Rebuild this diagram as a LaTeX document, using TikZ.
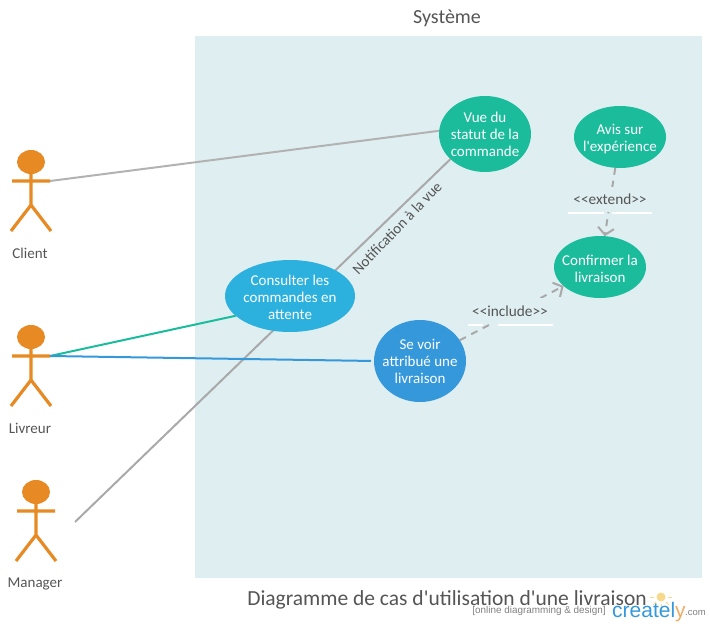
\documentclass[tikz,border=0pt]{standalone}
\usepackage{fontspec}
\setmainfont{Carlito}[Ligatures=TeXOff]
\newfontfamily\logofont{Liberation Sans}
\usetikzlibrary{arrows.meta,shapes.geometric}
\definecolor{syscol}{HTML}{DFEEF1}
\definecolor{greencol}{HTML}{1ABC9C}
\definecolor{cyancol}{HTML}{2CB1DF}
\definecolor{bluecol}{HTML}{3498DB}
\definecolor{actorcol}{HTML}{E78A24}
\definecolor{textcol}{HTML}{555555}
\definecolor{dashcol}{HTML}{A9A9A9}
\definecolor{bulbcol}{HTML}{F7D98B}
\tikzset{
  usecase/.style={ellipse,fill=#1,text=white,align=center,inner sep=-20pt,outer sep=0pt,
    font=\fontsize{15}{17}\selectfont},
  actorlabel/.style={text=textcol,font=\fontsize{15}{17}\selectfont},
  tag/.style={text=textcol,font=\fontsize{15.3}{17}\selectfont},
  dep/.style={dashcol,line width=2pt,dash pattern=on 7pt off 6pt,
    -{Straight Barb[length=7pt,width=16pt,line width=2pt]}},
  actor/.pic={
    \fill[actorcol] (0,-19) ellipse (14 and 12);
    \draw[actorcol,line width=3.2pt] (0,-19) -- (0,24) (-19,0) -- (19,0)
      (-20,50) -- (0,24) -- (20,50);
    \coordinate (-hand) at (19,0);
  }
}
\begin{document}
\begin{tikzpicture}[x=1pt,y=-1pt]
  \useasboundingbox (0,0) rectangle (710,626);
  \fill[syscol] (195,36) rectangle (702,578);
  \node[text=textcol,font=\fontsize{20}{23}\selectfont] (system) at (447,18.5) {Système};

  % actors
  \pic (client) at (31,181) {actor};
  \pic (livreur) at (31,356) {actor};
  \pic (manager) at (36,511) {actor};
  \node[actorlabel] (lclient) at (30,253) {Client};
  \node[actorlabel] (llivreur) at (30,428) {Livreur};
  \node[actorlabel] (lmanager) at (35,584) {Manager};
  \coordinate (mstart) at (75,522);

  % use cases
  \node[usecase=greencol,minimum width=92pt,minimum height=76pt] (vue) at (485,134)
    {Vue du\\statut de la\\commande};
  \draw[dashcol,line width=2pt] (mstart) -- (vue.216);
  \draw[color=black!30,line width=2pt] (client-hand) -- (vue.176);
  \node[usecase=cyancol,minimum width=130pt,minimum height=72pt] (consulter) at (290,296)
    {\rule{0pt}{13pt}Consulter les\\commandes en\\attente};
  \node[usecase=bluecol,minimum width=92pt,minimum height=82pt] (voir) at (420,361)
    {Se voir\\attribué une\\livraison};
  \node[usecase=greencol,minimum width=92pt,minimum height=62pt] (avis) at (620,137)
    {\rule{0pt}{15pt}Avis sur\\l'expérience};
  \node[usecase=greencol,minimum width=92pt,minimum height=62pt] (confirmer) at (600,267)
    {\rule{0pt}{15pt}Confirmer la\\livraison};
  \draw[greencol,line width=2pt] (livreur-hand) -- (consulter.200);
  \draw[bluecol,line width=2pt,shorten >=3pt] (livreur-hand) -- (voir.180);
  \node[actorlabel,rotate=46] (notif) at (397,228) {Notification à la vue};

  % white rules behind the tags
  \draw[white,line width=2pt] (568,213) -- (604,213) (612,213) -- (652,213);
  \draw[white,line width=2pt] (468,325) -- (483,325) (498,325) -- (553,325);
  \draw[dep] (avis) -- (confirmer);
  \draw[dep] (voir) -- (confirmer);
  \node[tag,fill=syscol,inner sep=0pt,minimum height=25pt,minimum width=80pt] (extend) at (610,199.5) {<{}<extend>{}>};
  \node[tag,fill=syscol,inner sep=0pt,minimum height=26pt,minimum width=80pt] (include) at (510,311) {<{}<include>{}>};

  % titre et logo
  \node[text=textcol,font=\fontsize{21.5}{25}\selectfont] (title) at (447,600)
    {Diagramme de cas d'utilisation d'une livraison};
  \fill[bulbcol] (661,597) circle (4.5);
  \foreach \a in {0,45,...,180}
    \draw[bulbcol,line width=1pt] (661,597) ++(\a:7) -- ++(\a:4);
  \node[text=gray,font=\logofont\fontsize{9.9}{11}\selectfont] (slogan) at (539,611)
    {[online diagramming \& design]};
  \node[anchor=base west,inner sep=0pt,text=bluecol,font=\logofont\fontsize{21}{24}\selectfont]
    (logo) at (612,617) {createl\textcolor{actorcol!70}{y}};
  \node[anchor=base west,inner sep=0pt,text=gray,font=\logofont\fontsize{9.5}{11}\selectfont]
    (logocom) at (685,615) {.com};
\end{tikzpicture}
\end{document}
